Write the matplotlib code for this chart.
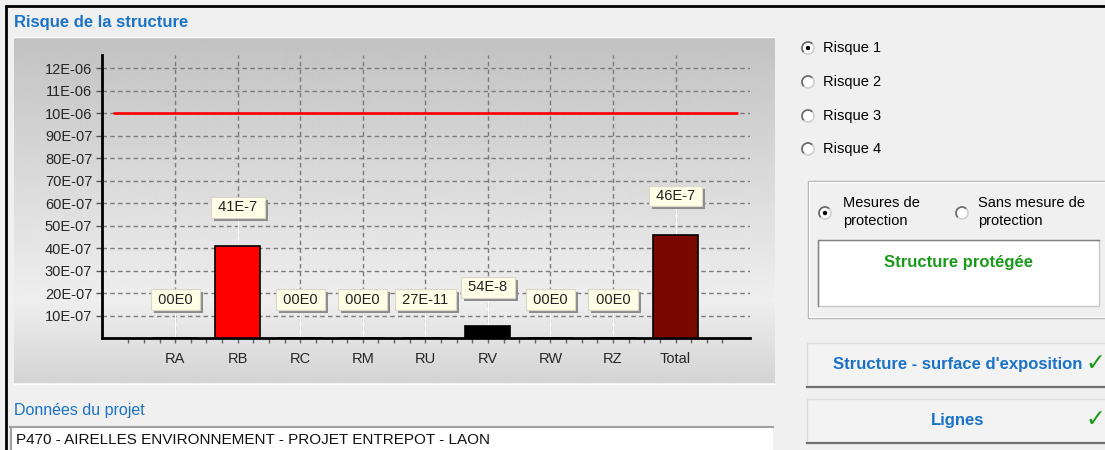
import numpy as np
import matplotlib
matplotlib.use('Agg')
import matplotlib.pyplot as plt
import matplotlib.patheffects as pe
from matplotlib.patches import Rectangle, Circle, Arc
from matplotlib.ticker import FixedLocator

plt.rcParams['font.family'] = ['Liberation Sans', 'DejaVu Sans']

# ── data ──────────────────────────────────────────────────────────────────────
categories   = ['RA', 'RB', 'RC', 'RM', 'RU', 'RV', 'RW', 'RZ', 'Total']
risk_values  = [0.0, 4.1e-6, 0.0, 0.0, 2.7e-10, 5.4e-7, 0.0, 0.0, 4.6e-6]
value_labels = ['00E0', '41E-7', '00E0', '00E0', '27E-11', '54E-8', '00E0', '00E0', '46E-7']
tolerable_risk = 1.0e-5

y_tick_values = [1e-6, 2e-6, 3e-6, 4e-6, 5e-6, 6e-6, 7e-6, 8e-6, 9e-6, 10e-6, 11e-6, 12e-6]
y_tick_labels = ['10E-07', '20E-07', '30E-07', '40E-07', '50E-07', '60E-07',
                 '70E-07', '80E-07', '90E-07', '10E-06', '11E-06', '12E-06']

risk_options = ['Risque 1', 'Risque 2', 'Risque 3', 'Risque 4']
project_name = 'P470 - AIRELLES ENVIRONNEMENT - PROJET ENTREPOT - LAON'

bar_colors = ['#ff0000', '#ff0000', '#ff0000', '#ff0000', '#000000',
              '#000000', '#000000', '#000000', '#780800']

BLUE  = '#1a73c8'
GREEN = '#1a9a1a'

# ── figure + UI layer (pixel coordinates, y down) ─────────────────────────────
W, H = 1105, 450
fig = plt.figure(figsize=(W / 100, H / 100), dpi=100, facecolor='#f0f0f0')

ui = fig.add_axes([0, 0, 1, 1])
ui.axis('off')

# gradient panel behind the chart
ys = np.arange(37, 383)
shade = np.interp(ys, [37, 300, 383], [0.76, 0.935, 0.83])
ui.imshow(np.repeat(shade[:, None], 2, axis=1), cmap='gray', vmin=0, vmax=1,
          extent=(14, 775, 383, 37), aspect='auto', interpolation='bilinear')
ui.plot([14, 775], [36.5, 36.5], color='white', lw=1)
ui.plot([14, 775], [383.5, 383.5], color='white', lw=1)

ui.set_xlim(0, W)
ui.set_ylim(H, 0)

# window frame
ui.plot([5, W], [5.5, 5.5], color='black', lw=2, solid_capstyle='butt')
ui.plot([5.5, 5.5], [5, H], color='black', lw=2, solid_capstyle='butt')

ui.text(14, 22, 'Risque de la structure', color=BLUE, fontsize=12,
        fontweight='bold', va='center', ha='left')


def radio(cx, cy, checked):
    ui.add_patch(Circle((cx, cy), 6, fc='white', ec='#d0d0d0', lw=1.2))
    ui.add_patch(Arc((cx, cy), 12, 12, theta1=135, theta2=315, color='#6a6a6a', lw=1.2))
    if checked:
        ui.add_patch(Circle((cx, cy), 2.2, fc='black', ec='none'))


# risk selector
for i, (opt, yy) in enumerate(zip(risk_options, [48, 82, 116, 149])):
    radio(808, yy, i == 0)
    ui.text(823, yy, opt, fontsize=10.5, va='center', ha='left', color='black')

# protection group box
ui.add_patch(Rectangle((808, 181), 300, 137, fc='none', ec='#b4b4b4', lw=1))
ui.add_patch(Rectangle((809, 182), 298, 135, fc='none', ec='white', lw=0.8))
radio(825, 213, True)
ui.text(843, 212, 'Mesures de\nprotection', fontsize=10.5, va='center', ha='left',
        linespacing=1.3)
radio(962, 213, False)
ui.text(978, 212, 'Sans mesure de\nprotection', fontsize=10.5, va='center', ha='left',
        linespacing=1.3)

ui.add_patch(Rectangle((818, 240), 281, 66, fc='white', ec='#c8c8c8', lw=1))
ui.plot([818, 818, 1099], [306, 240, 240], color='#828282', lw=1)
ui.text(958, 263, 'Structure protégée', color=GREEN, fontsize=12,
        fontweight='bold', ha='center', va='center')

# buttons
for label, top in [("Structure - surface d'exposition", 343), ('Lignes', 399)]:
    ui.add_patch(Rectangle((807, top), 300, 44, fc='#f3f3f3', ec='#dcdcdc', lw=1))
    ui.plot([807, 1105], [top + 44, top + 44], color='#6e6e6e', lw=1.6)
    ui.text(958, top + 21, label, color=BLUE, fontsize=12, fontweight='bold',
            ha='center', va='center')
    ui.text(1095, top + 21, '✓', color=GREEN, fontsize=17, ha='center', va='center')

# project data
ui.text(14, 411, 'Données du projet', color=BLUE, fontsize=11.5, ha='left', va='center')
ui.add_patch(Rectangle((10, 427), 763, 26, fc='white', ec='none'))
ui.plot([10, 773], [427, 427], color='#a0a0a0', lw=1.5)
ui.plot([10.5, 10.5], [427, 450], color='#a0a0a0', lw=1.5)
ui.text(16, 440, project_name, fontsize=11, ha='left', va='center', color='#111111')

# ── chart ─────────────────────────────────────────────────────────────────────
ax = fig.add_axes([102 / W, (H - 338) / H, 648 / W, 283 / H])
ax.patch.set_visible(False)
x = np.arange(len(categories))
x0, x1 = -1.17, 9.19
ytop = 12.58e-6
ax.set_xlim(x0, x1)
ax.set_ylim(0, ytop)
px_per_unit = 283 / ytop

dash = (0, (3.2, 2.4))
ax.hlines(y_tick_values, x0, x1, colors='#7a7a7a', linestyles=dash, lw=1, zorder=1)
ax.vlines(x, 0, ytop, colors='#7a7a7a', linestyles=dash, lw=1, zorder=1)

vals = np.array(risk_values)
ax.vlines(x, vals, vals + 29 / px_per_unit, colors='white', lw=1, zorder=2)

ax.hlines(tolerable_risk, -1, 9, colors='#ff0000', lw=1.9, zorder=3)
ax.bar(x, vals, width=0.72, color=bar_colors, edgecolor='black', lw=1.2, zorder=4)

shadow = [pe.withSimplePatchShadow(offset=(2.2, -2.2), shadow_rgbFace='#8c8c8c', alpha=1.0)]
for xi, v, lab in zip(x, vals, value_labels):
    t = ax.annotate(' ' + lab + ' ', (xi, v), xytext=(0, 27.7), textcoords='offset points',
                    ha='center', va='center', fontsize=10.5, color='#222222',
                    bbox=dict(boxstyle='square,pad=0.22', fc='#fefee6', ec='#d8d8c8', lw=0.8),
                    zorder=6, annotation_clip=False)
    t.get_bbox_patch().set_path_effects(shadow)

for side in ('top', 'right'):
    ax.spines[side].set_visible(False)
for side in ('left', 'bottom'):
    ax.spines[side].set_linewidth(2)
    ax.spines[side].set_color('black')

ax.set_yticks(y_tick_values)
ax.set_yticklabels(y_tick_labels)
ax.tick_params(axis='y', length=4.5, width=1, color='#555555', pad=2.5,
               labelsize=10.5, labelcolor='#262626')

ax.set_xticks(x)
ax.set_xticklabels(categories)
ax.xaxis.set_minor_locator(FixedLocator(np.arange(-0.75, 9.0, 0.25)))
ax.tick_params(axis='x', which='both', length=3.5, width=1, color='#666666')
ax.tick_params(axis='x', which='major', pad=6.5, labelsize=10.5, labelcolor='#262626')

fig.savefig('out.png', dpi=100, facecolor=fig.get_facecolor())
